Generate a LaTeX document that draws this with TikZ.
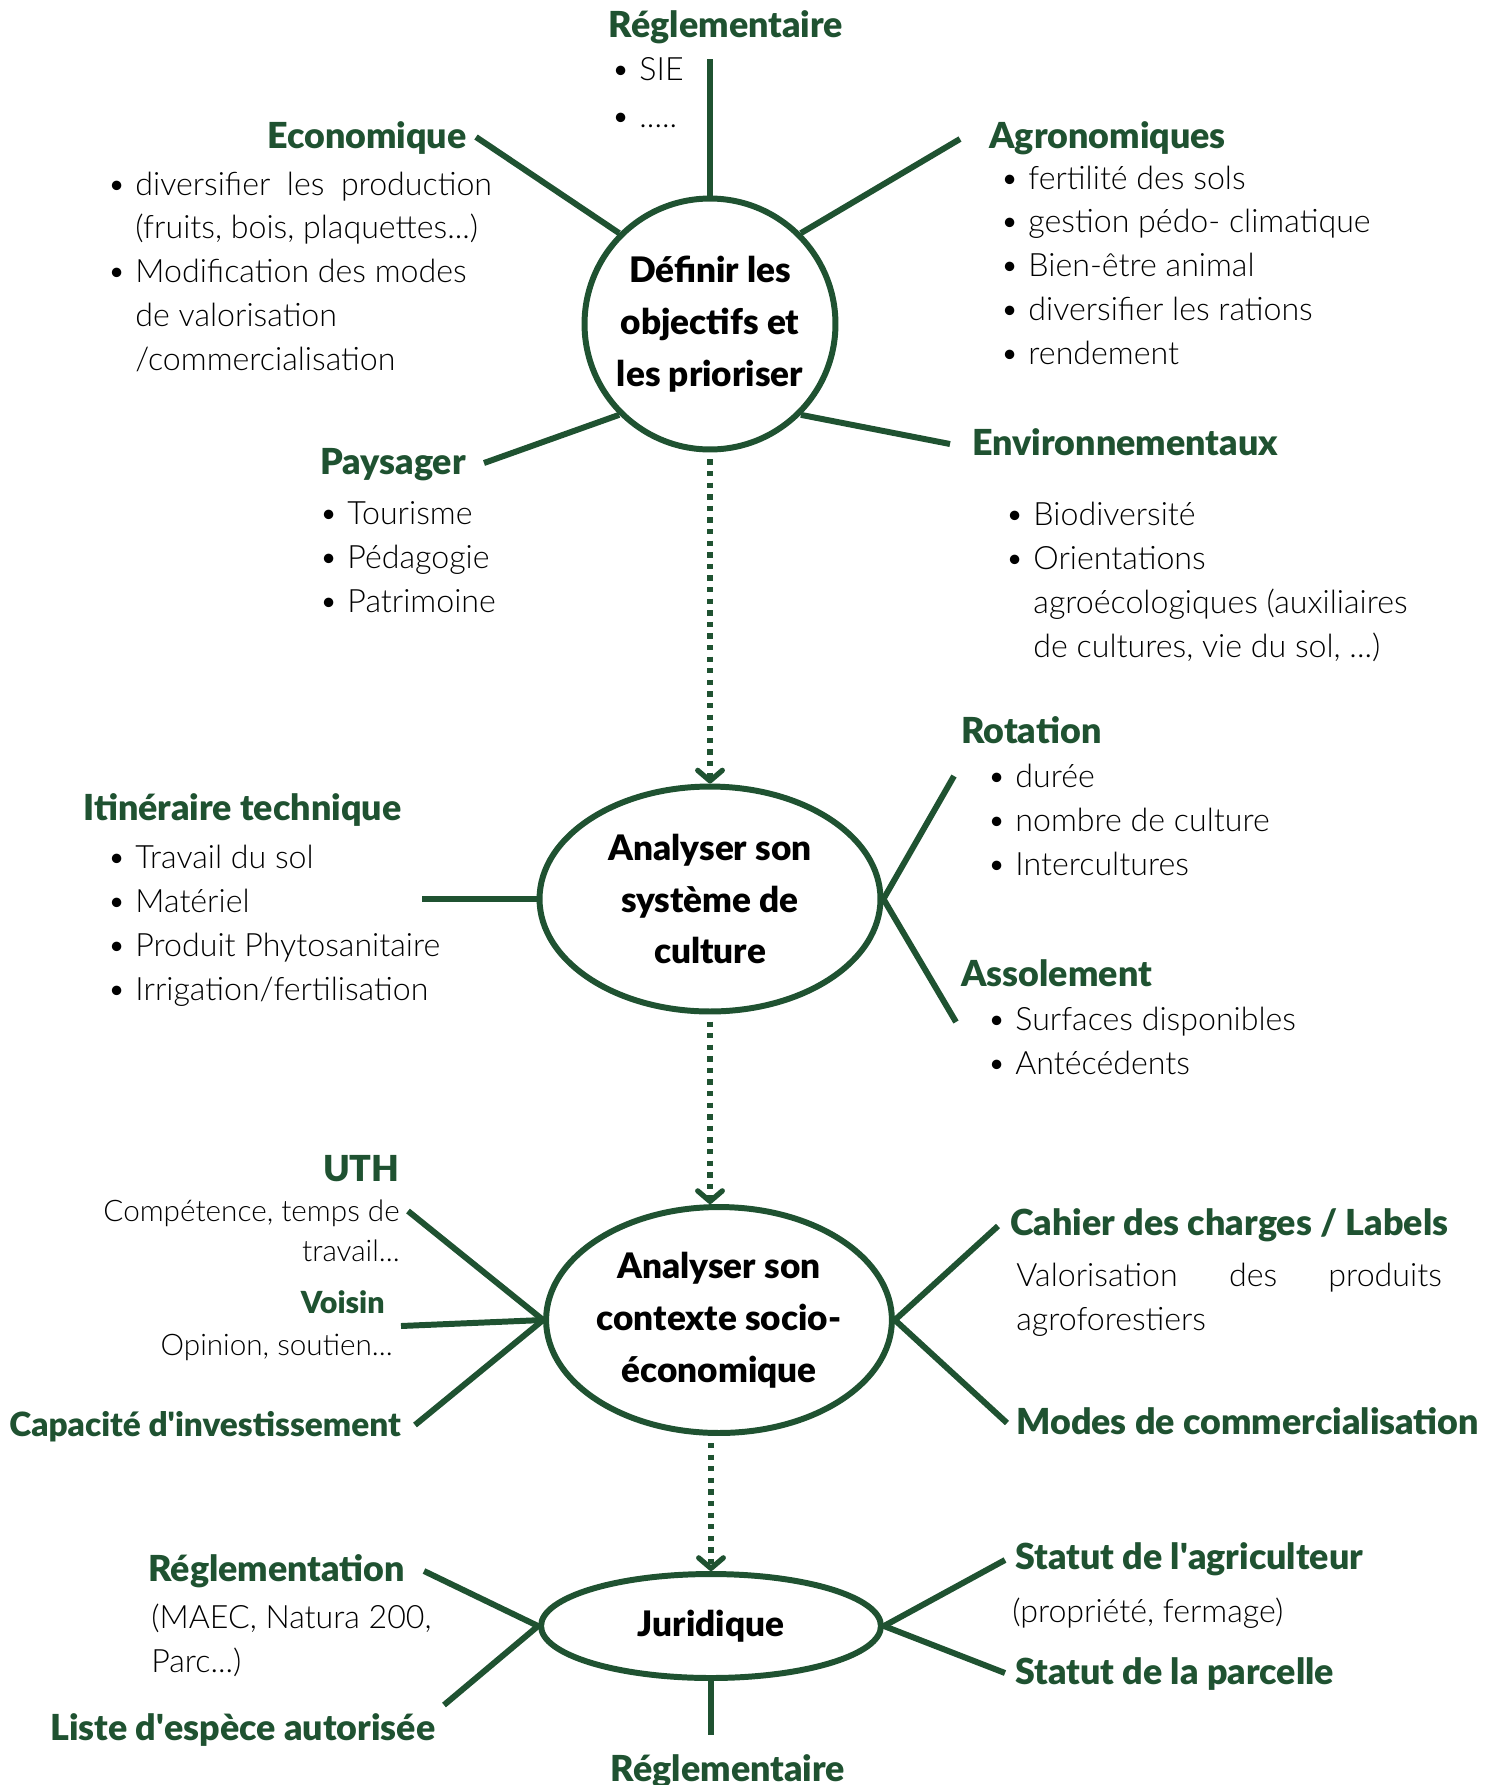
\documentclass[tikz,border=0pt]{standalone}
\usepackage{fontspec}
\newfontfamily\headfont{Lato Black}
\newfontfamily\bodyfont{Lato Light}
\usetikzlibrary{shapes.geometric,arrows.meta,positioning}
\definecolor{dgreen}{HTML}{1F5231}
\newcommand{\itm}{\makebox[16pt][l]{\textbullet}}
\newcommand{\ind}{\hspace*{16pt}}
\newcommand{\q}{\textquotesingle}

\begin{document}
\begin{tikzpicture}[x=0.02cm,y=-0.02cm,
    head/.style={font=\headfont\fontsize{20.4}{24}\selectfont,text=dgreen,inner sep=0pt},
    body/.style={font=\bodyfont\fontsize{18.3}{24.9}\selectfont,align=left,inner sep=0pt},
    small/.style={font=\bodyfont\fontsize{16.9}{22.6}\selectfont,align=right,inner sep=0pt},
    hub/.style={draw=dgreen,line width=3.4pt,font=\headfont\fontsize{20}{29.5}\selectfont,align=center,inner sep=0pt},
    spoke/.style={draw=dgreen,line width=3.4pt},
    flow/.style={draw=dgreen,line width=3pt,dash pattern=on 3pt off 3.6pt,shorten <=4pt,
      -{Straight Barb[length=6pt,width=14pt,round]}}]
  \useasboundingbox (0,0) rectangle (1499,1785);

  % the four steps
  \node[hub,circle,minimum size=5.02cm] (obj) at (710,324) {D\'efinir les\\objectifs et\\les prioriser};
  \node[hub,ellipse,minimum width=6.82cm,minimum height=4.5cm] (sys) at (710,899) {Analyser son\\syst\`eme de\\culture};
  \node[hub,ellipse,minimum width=6.86cm,minimum height=4.52cm] (ctx) at (719,1320) {Analyser son\\contexte socio-\\\'economique};
  \node[hub,ellipse,minimum width=6.8cm,minimum height=2.08cm] (jur) at (711,1626) {Juridique};

  \draw[flow] (obj.south) -- (sys.north);
  \draw[flow] (sys.south) -- (ctx.north -| sys.south);
  \draw[flow] (jur.north |- ctx.south) -- (jur.north);

  % spokes
  \coordinate (oT) at (710,59);
  \coordinate (oUL) at (476,137);
  \coordinate (oUR) at (960,139);
  \coordinate (oLL) at (484,463);
  \coordinate (oLR) at (950,444);
  \draw[spoke] (obj.90) -- (oT);
  \draw[spoke] (obj.135) -- (oUL);
  \draw[spoke] (obj.45) -- (oUR);
  \draw[spoke] (obj.225) -- (oLL);
  \draw[spoke] (obj.315) -- (oLR);

  \coordinate (sL) at (422,899);
  \coordinate (sUR) at (954,776);
  \coordinate (sLR) at (956,1022);
  \draw[spoke] (sys.west) -- (sL);
  \draw[spoke] (sys.east) -- (sUR);
  \draw[spoke] (sys.east) -- (sLR);

  \coordinate (cUL) at (408,1211);
  \coordinate (cL) at (401,1326);
  \coordinate (cLL) at (415,1425);
  \coordinate (cUR) at (998,1226);
  \coordinate (cLR) at (1007,1423);
  \draw[spoke] (ctx.west) -- (cUL);
  \draw[spoke] (ctx.west) -- (cL);
  \draw[spoke] (ctx.west) -- (cLL);
  \draw[spoke] (ctx.east) -- (cUR);
  \draw[spoke] (ctx.east) -- (cLR);

  \coordinate (jUL) at (424,1571);
  \coordinate (jLL) at (444,1705);
  \coordinate (jUR) at (1005,1560);
  \coordinate (jLR) at (1005,1673);
  \coordinate (jB) at (711,1735);
  \draw[spoke] (jur.west) -- (jUL);
  \draw[spoke] (jur.west) -- (jLL);
  \draw[spoke] (jur.east) -- (jUR);
  \draw[spoke] (jur.east) -- (jLR);
  \draw[spoke] (jur.south) -- (jB);

  % objectives (lists are placed by their last line)
  \node[head,anchor=base] (regT) at (726,37) {R\'eglementaire};
  \node[body,anchor=base west] (regTl) at (611,127) {\itm SIE\\[1.6pt]\itm .....};
  \node[head,anchor=base east] (eco) at (467,148) {Economique};
  \node[body,anchor=base west] (ecol) at (107,370) {\itm\makebox[7.13cm][s]{diversifier les production}\\
    \ind(fruits, bois, plaquettes...)\\\itm Modification des modes\\\ind de valorisation\\\ind /commercialisation};
  \node[head,anchor=base west] (agro) at (989,148) {Agronomiques};
  \node[body,anchor=base west] (agrol) at (1000,364) {\itm fertilit\'e des sols\\\itm gestion p\'edo- climatique\\
    \itm Bien-\^etre animal\\\itm diversifier les rations\\\itm rendement};
  \node[head,anchor=base west] (env) at (972,455) {Environnementaux};
  \node[body,anchor=base west] (envl) at (1005,657) {\itm Biodiversit\'e\\\itm Orientations\\
    \ind agro\'ecologiques (auxiliaires\\\ind de cultures, vie du sol, ...)};
  \node[head,anchor=base west] (pay) at (320,474) {Paysager};
  \node[body,anchor=base west] (payl) at (319,612) {\itm Tourisme\\\itm P\'edagogie\\\itm Patrimoine};

  % cropping system
  \node[head,anchor=base west] (rot) at (961,743) {Rotation};
  \node[body,anchor=base west] (rotl) at (987,875) {\itm dur\'ee\\\itm nombre de culture\\\itm Intercultures};
  \node[head,anchor=base west] (ass) at (961,986) {Assolement};
  \node[body,anchor=base west] (assl) at (987,1074) {\itm Surfaces disponibles\\\itm Ant\'ec\'edents};
  \node[head,anchor=base west] (iti) at (83,820) {Itin\'eraire technique};
  \node[body,anchor=base west] (itil) at (107,1000) {\itm Travail du sol\\\itm Mat\'eriel\\
    \itm Produit Phytosanitaire\\\itm Irrigation/fertilisation};

  % socio-economic context
  \node[head,anchor=base east] (uth) at (400,1181) {UTH};
  \node[small,anchor=base east] (uthl) at (400,1261) {Comp\'etence, temps de\\travail...};
  \node[head,anchor=base east,font=\headfont\fontsize{17.3}{20}\selectfont] (voi) at (385,1313) {Voisin};
  \node[small,anchor=base east] (voil) at (393,1355) {Opinion, soutien...};
  \node[head,anchor=base west,font=\headfont\fontsize{19}{22}\selectfont] (cap) at (9,1436) {Capacit\'e d\q investissement};
  \node[head,anchor=base west] (cah) at (1010,1235) {Cahier des charges / Labels};
  \node[body,anchor=base west] (cahl) at (1016,1330) {\makebox[8.51cm][s]{Valorisation des produits}\\agroforestiers};
  \node[head,anchor=base west] (mod) at (1016,1434) {Modes de commercialisation};

  % legal
  \node[head,anchor=base west] (regl) at (148,1581) {R\'eglementation};
  \node[body,anchor=base west] (regll) at (151,1672) {(MAEC, Natura 200,\\Parc...)};
  \node[head,anchor=base west] (lst) at (50,1740) {Liste d\q esp\`ece autoris\'ee};
  \node[head,anchor=base west] (sagr) at (1015,1569) {Statut de l\q agriculteur};
  \node[body,anchor=base west] (sagrl) at (1012,1622) {(propri\'et\'e, fermage)};
  \node[head,anchor=base west] (spar) at (1015,1684) {Statut de la parcelle};
  \node[head,anchor=base] (regB) at (728,1781) {R\'eglementaire};
\end{tikzpicture}
\end{document}
